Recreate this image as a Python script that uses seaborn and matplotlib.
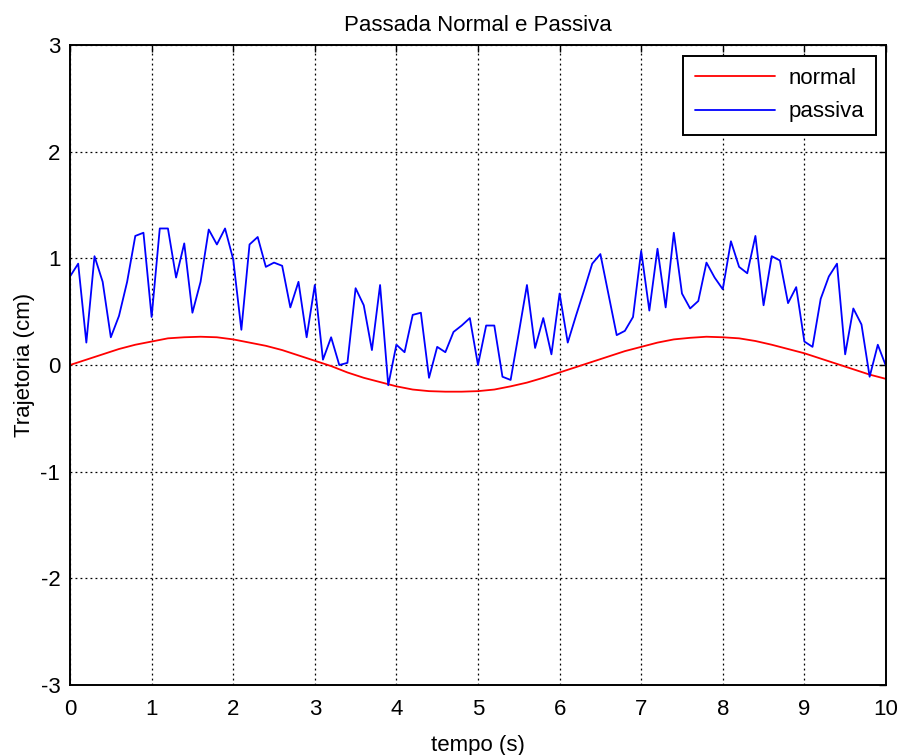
import matplotlib
matplotlib.use('Agg')
import matplotlib.pyplot as plt
import seaborn as sns
import numpy as np
import pandas as pd

# trajetoria "normal" (amostras a cada 0.2 s)
normal_y = [0.00, 0.05, 0.10, 0.15, 0.19, 0.22, 0.25, 0.26, 0.265, 0.26,
            0.24, 0.21, 0.18, 0.14, 0.09, 0.04, -0.01, -0.07, -0.12, -0.16,
            -0.20, -0.23, -0.245, -0.25, -0.25, -0.245, -0.23, -0.20, -0.165, -0.12,
            -0.07, -0.02, 0.03, 0.08, 0.13, 0.17, 0.21, 0.24, 0.255, 0.265,
            0.26, 0.25, 0.225, 0.19, 0.15, 0.11, 0.06, 0.01, -0.04, -0.09,
            -0.13]

# trajetoria "passiva" (amostras a cada 0.1 s)
passiva_y = [0.83, 0.95, 0.21, 1.02, 0.78, 0.26, 0.46, 0.78, 1.21, 1.24,
             0.45, 1.28, 1.28, 0.82, 1.14, 0.49, 0.78, 1.27, 1.13, 1.28,
             0.99, 0.33, 1.13, 1.20, 0.92, 0.96, 0.93, 0.54, 0.78, 0.26,
             0.75, 0.05, 0.26, 0.00, 0.02, 0.72, 0.56, 0.14, 0.75, -0.19,
             0.19, 0.12, 0.47, 0.49, -0.12, 0.17, 0.12, 0.31, 0.37, 0.44,
             0.00, 0.37, 0.37, -0.11, -0.14, 0.30, 0.75, 0.16, 0.44, 0.10,
             0.67, 0.21, 0.46, 0.70, 0.95, 1.04, 0.66, 0.28, 0.32, 0.45,
             1.07, 0.51, 1.09, 0.54, 1.24, 0.67, 0.53, 0.60, 0.96, 0.82,
             0.71, 1.16, 0.92, 0.86, 1.21, 0.56, 1.02, 0.98, 0.58, 0.73,
             0.22, 0.17, 0.62, 0.83, 0.95, 0.10, 0.53, 0.38, -0.11, 0.19,
             -0.01]

x_ticks = [0, 1, 2, 3, 4, 5, 6, 7, 8, 9, 10]
y_ticks = [-3, -2, -1, 0, 1, 2, 3]

t_normal = np.linspace(0, 10, len(normal_y))
t_passiva = np.linspace(0, 10, len(passiva_y))

df_normal = pd.DataFrame({'t': t_normal, 'y': normal_y})
df_passiva = pd.DataFrame({'t': t_passiva, 'y': passiva_y})

sns.set_style('white')
plt.rcParams['font.family'] = ['Liberation Sans', 'DejaVu Sans']
plt.rcParams['axes.unicode_minus'] = False
plt.rcParams['text.color'] = 'black'
plt.rcParams['axes.labelcolor'] = 'black'

fig = plt.figure(figsize=(9, 7.55), dpi=100)
ax = fig.add_axes([0.0778, 0.0927, 0.9066, 0.8477])

sns.lineplot(data=df_normal, x='t', y='y', color='#ff0000', linewidth=1.3,
             label='normal', ax=ax)
sns.lineplot(data=df_passiva, x='t', y='y', color='#0000ff', linewidth=1.3,
             label='passiva', ax=ax)

ax.set_xlim(0, 10)
ax.set_ylim(-3, 3)
ax.set_xticks(x_ticks)
ax.set_yticks(y_ticks)
ax.grid(True, color='black', linestyle=(0, (1.5, 2.5)), linewidth=0.9)
ax.tick_params(direction='in', length=5, width=1, top=True, right=True,
               labelsize=16, colors='black')
ax.tick_params(axis='x', pad=10)
ax.tick_params(axis='y', pad=7)
for s in ax.spines.values():
    s.set_color('black')
    s.set_linewidth(1.4)

ax.set_title('Passada Normal e Passiva', fontsize=16, pad=10, color='black')
ax.set_xlabel('tempo (s)', fontsize=16, labelpad=11)
ax.set_ylabel('Trajetoria (cm)', fontsize=16, labelpad=4)

leg = ax.legend(loc='upper right', bbox_to_anchor=(0.988, 0.983), fontsize=16,
                frameon=True, fancybox=False, handlelength=3.6,
                borderpad=0.55, labelspacing=0.55, handletextpad=0.6,
                borderaxespad=0)
leg.get_frame().set_edgecolor('black')
leg.get_frame().set_linewidth(1.4)
leg.get_frame().set_alpha(1)

fig.savefig('out.png', dpi=100)
